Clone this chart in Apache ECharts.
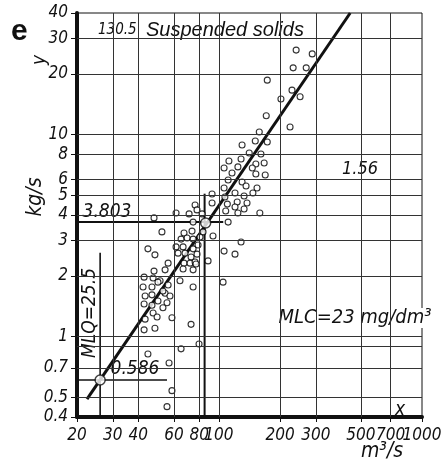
<!DOCTYPE html>
<html><head><meta charset="utf-8">
<script src="https://cdn.jsdelivr.net/npm/echarts@6/dist/echarts.min.js"></script>
<style>html,body{margin:0;padding:0;background:#fff}#c{width:446px;height:466px}</style>
</head><body><div id="c"></div>
<script>
// observed discharge x (m3/s) and load y (kg/s)
const flowX = [240,288,232,269,173,229,202,251,171,224,158,151,173,130,141,161,112,128.5,152,167,124,116,146,152,169,111,130,136,154,106,106,120,133,147,107,123,137.5,110,120,133,108,124,159,111,
  92.5,92.5,76.3,78.0,82.6,71.3,61.5,47.9,74.6,52.4,67.3,73.7,83.5,80.7,93.5,65.1,69.7,74.6,128.5,106,120,44.7,48.4,61.5,66.6,74.6,78.9,62.9,72.9,78.0,68.1,56.2,67.3,72.1,76.3,88.4,47.9,54.3,66.6,74.6,77.1,42.8,47.4,51.3,64.3,104.8,42.3,46.8,50.1,56.2,74.6,43.3,46.8,54.3,57.4,53.0,42.8,46.8,50.1,55.5,53.0,47.4,49.6,43.3,58.7,42.8,48.4,72.9,79.8,65.1,44.7,56.8,58.7,55.5];
const loadY = [26.2,25.1,21.4,21.4,18.6,16.6,15.0,15.4,12.4,10.9,10.3,9.30,9.19,8.88,8.11,8.02,7.40,7.57,7.15,7.24,6.92,6.46,6.83,6.38,6.31,5.96,5.83,5.57,5.44,5.44,6.83,5.14,4.97,5.14,4.91,4.64,4.59,4.53,4.38,4.28,4.19,4.09,4.09,3.69,
  5.08,4.59,4.48,4.24,4.05,4.05,4.09,3.87,3.69,3.30,3.26,3.33,3.30,3.11,3.15,3.04,3.08,3.04,2.94,2.65,2.56,2.72,2.54,2.78,2.78,2.72,2.84,2.59,2.48,2.56,2.59,2.31,2.31,2.31,2.34,2.37,2.11,2.14,2.16,2.14,2.29,1.97,1.95,1.89,1.89,1.86,1.76,1.76,1.86,1.80,1.76,1.59,1.61,1.64,1.59,1.68,1.45,1.43,1.50,1.47,1.39,1.31,1.25,1.22,1.24,1.08,1.10,1.15,0.92,0.87,0.82,0.74,0.54,0.45];

const xTicks = [20,30,40,60,80,100,200,300,500,700,1000];
const yTicks = [0.4,0.5,0.7,1,2,3,4,5,6,8,10,20,30,40];
const xGrid = [30,40,60,80,100,200,300,500,700];
const yGrid = [0.5,0.7,0.9,1,2,3,4,5,6,8,10,20,30];

const regressionLine = [[22.4,0.49],[443,40]];
const mlqPoint = [[26,0.61]];
const mlqVertical = [[26,0.4],[26,2.6]];
const mlqHorizontal = [[20,0.61],[55.5,0.61]];
const meanPoint = [[86,3.65]];
const meanHorizontal = [[20,3.69],[105,3.69]];
const meanVertical = [[85,0.4],[85,5.1]];

const NUM_FONT = '"Liberation Sans Narrow","DejaVu Sans Condensed","Liberation Sans",sans-serif';
const TXT_FONT = '"Liberation Sans","DejaVu Sans",sans-serif';
const INK = '#111';

function nearestLabel(v, ticks){
  let best = ticks[0];
  for (const t of ticks) if (Math.abs(Math.log(t) - Math.log(v)) < Math.abs(Math.log(best) - Math.log(v))) best = t;
  return String(best);
}
// keep end ticks a hair inside the extent so float rounding of log10 does not drop them
function inside(ticks, lo, hi){
  return ticks.map(v => v >= hi ? v*(1-1e-7) : (v <= lo ? v*(1+1e-7) : v));
}
const X_MIN = xTicks[0], X_MAX = xTicks[xTicks.length-1];
const Y_MIN = yTicks[0], Y_MAX = yTicks[yTicks.length-1];
const xMainTicks = xTicks.slice(0, -1);      // labels drawn on the main axis
const xLastTick = xTicks.slice(-1);          // last label drawn on an overlay axis so it is not hidden

const chart = echarts.init(document.getElementById('c'), null, {renderer:'canvas'});
const labelStyle = {fontFamily: NUM_FONT, fontStyle:'italic', fontSize:17, color:INK};

const option = {
  animation:false,
  backgroundColor:'#fff',
  grid:{left:77, right:24, top:13, bottom:49, show:true, borderColor:INK, borderWidth:1, backgroundColor:'transparent'},
  xAxis:[
    {type:'log', logBase:10, min:X_MIN, max:X_MAX, position:'bottom',
      axisLine:{show:true, onZero:false, lineStyle:{color:INK, width:4}},
      axisTick:{show:true, customValues:inside(xTicks, X_MIN, X_MAX), length:5, lineStyle:{color:INK, width:1}},
      axisLabel:Object.assign({customValues:inside(xMainTicks, X_MIN, X_MAX), margin:10, interval:0, showMinLabel:true, formatter:v=>nearestLabel(v,xTicks)}, labelStyle),
      splitLine:{show:false}, minorTick:{show:false}, minorSplitLine:{show:false}},
    {type:'log', logBase:10, min:X_MIN, max:X_MAX, position:'bottom', offset:0,
      axisLine:{show:false}, axisTick:{show:false},
      axisLabel:Object.assign({customValues:inside(xLastTick, X_MIN, X_MAX), margin:10, interval:0, showMaxLabel:true, formatter:v=>nearestLabel(v,xTicks)}, labelStyle),
      splitLine:{show:false}, minorTick:{show:false}, minorSplitLine:{show:false}}
  ],
  yAxis:{type:'log', logBase:10, min:Y_MIN, max:Y_MAX,
    axisLine:{show:true, onZero:false, lineStyle:{color:INK, width:4}},
    axisTick:{show:true, customValues:inside(yTicks, Y_MIN, Y_MAX), length:6, lineStyle:{color:INK, width:1}},
    axisLabel:Object.assign({customValues:inside(yTicks, Y_MIN, Y_MAX), margin:9, interval:0, showMaxLabel:true, showMinLabel:true, formatter:v=>nearestLabel(v,yTicks)}, labelStyle),
    splitLine:{show:false}, minorTick:{show:false}, minorSplitLine:{show:false}},
  series:[
    {type:'line', data:regressionLine, symbol:'none', lineStyle:{color:INK, width:3}, z:3,
      markLine:{silent:true, symbol:'none', animation:false, label:{show:false},
        lineStyle:{color:'#333', width:1, type:'solid'},
        data: xGrid.map(v=>({xAxis:v})).concat(yGrid.map(v=>({yAxis:v})))}},
    {type:'line', data:mlqVertical, symbol:'none', lineStyle:{color:INK, width:1.6}, z:3},
    {type:'line', data:mlqHorizontal, symbol:'none', lineStyle:{color:INK, width:1.6}, z:3},
    {type:'line', data:meanHorizontal, symbol:'none', lineStyle:{color:INK, width:2}, z:3},
    {type:'line', data:meanVertical, symbol:'none', lineStyle:{color:INK, width:2}, z:3},
    {type:'scatter', data:flowX.map((x,i)=>[x, loadY[i]]), symbol:'circle', symbolSize:6,
      itemStyle:{color:'#fff', borderColor:'#000', borderWidth:1.1}, z:4},
    {type:'scatter', data:mlqPoint, symbol:'circle', symbolSize:10,
      itemStyle:{color:'#fff', borderColor:INK, borderWidth:1.5}, z:5},
    {type:'scatter', data:meanPoint, symbol:'circle', symbolSize:10,
      itemStyle:{color:'#fff', borderColor:INK, borderWidth:1.5}, z:5}
  ],
  graphic:[
    {type:'text', left:11, top:17, style:{text:'e', font:'bold 30px '+TXT_FONT, fill:INK}},
    {type:'text', x:98, y:30, style:{text:'130.5', font:'italic 15px '+NUM_FONT, fill:INK, textVerticalAlign:'middle'}},
    {type:'text', x:146, y:30, style:{text:'Suspended solids', font:'italic 20px '+TXT_FONT, fill:INK, textVerticalAlign:'middle'}},
    {type:'text', x:40, y:60, rotation:Math.PI/2, style:{text:'y', font:'italic 19px '+NUM_FONT, fill:INK, textAlign:'center', textVerticalAlign:'middle'}},
    {type:'text', x:36, y:197, rotation:Math.PI/2, style:{text:'kg/s', font:'italic 21px '+NUM_FONT, fill:INK, textAlign:'center', textVerticalAlign:'middle'}},
    {type:'text', x:107, y:212, style:{text:'3.803', font:'italic 19px '+NUM_FONT, fill:INK, textAlign:'center', textVerticalAlign:'middle'}},
    {type:'text', x:360, y:169, style:{text:'1.56', font:'italic 18px '+NUM_FONT, fill:INK, textAlign:'center', textVerticalAlign:'middle'}},
    {type:'text', x:90, y:313, rotation:Math.PI/2, style:{text:'MLQ=25.5', font:'italic 19px '+NUM_FONT, fill:INK, textAlign:'center', textVerticalAlign:'middle'}},
    {type:'text', x:135, y:369, style:{text:'0.586', font:'italic 19px '+NUM_FONT, fill:INK, textAlign:'center', textVerticalAlign:'middle'}},
    {type:'text', x:355, y:318, style:{text:'MLC=23 mg/dm³', font:'italic 20px '+NUM_FONT, fill:INK, backgroundColor:'#fff', textAlign:'center', textVerticalAlign:'middle'}},
    {type:'text', x:400, y:410, style:{text:'x', font:'italic 19px '+NUM_FONT, fill:INK, textAlign:'center', textVerticalAlign:'middle'}},
    {type:'text', x:382, y:452, style:{text:'m³/s', font:'italic 21px '+NUM_FONT, fill:INK, textAlign:'center', textVerticalAlign:'middle'}}
  ]
};
chart.setOption(option);
</script>
</body></html>
